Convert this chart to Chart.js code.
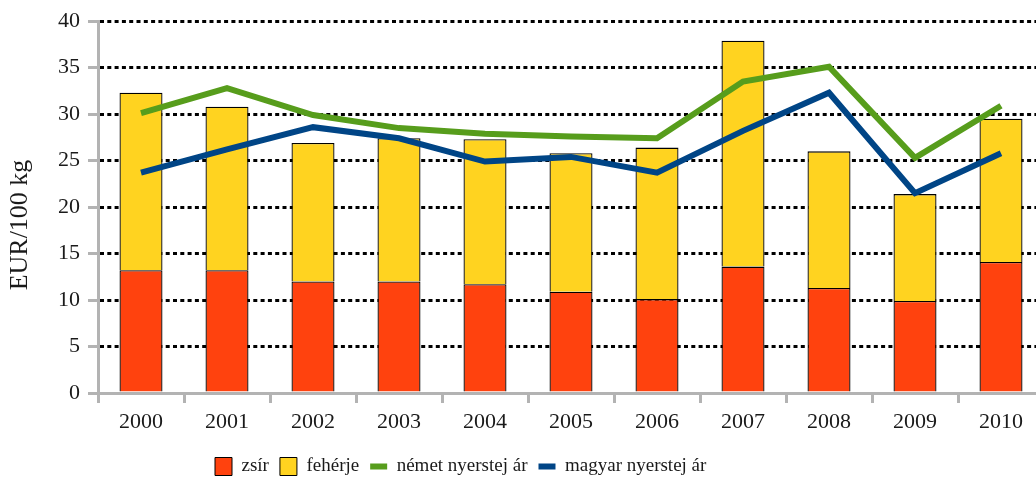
<!DOCTYPE html>
<html>
<head>
<meta charset="utf-8">
<script src="https://cdn.jsdelivr.net/npm/chart.js@4"></script>
<style>
  html, body { margin: 0; padding: 0; background: #fff; overflow: hidden; }
  #wrap { width: 1036px; height: 486px; overflow: hidden; }
</style>
</head>
<body>
<div id="wrap"><canvas id="chart" width="1046" height="486"></canvas></div>
<script>
const years = ['2000','2001','2002','2003','2004','2005','2006','2007','2008','2009','2010'];
const zsir = [13.2, 13.2, 12.0, 12.0, 11.7, 10.9, 10.1, 13.6, 11.3, 9.9, 14.1];
const feherje = [19.1, 17.6, 14.9, 15.4, 15.6, 14.9, 16.3, 24.3, 14.7, 11.5, 15.4];
const nemet = [30.1, 32.8, 29.9, 28.5, 27.9, 27.6, 27.4, 33.5, 35.1, 25.3, 30.9];
const magyar = [23.7, 26.2, 28.6, 27.4, 24.9, 25.4, 23.7, 28.2, 32.3, 21.5, 25.8];
const yTitle = 'EUR/100 kg';

const red = '#ff420e', yellow = '#ffd320', green = '#579d1c', blue = '#004586';
const axisGray = '#b3b3b3', ink = '#1a1a1a';
const serif = "'Liberation Serif', 'DejaVu Serif', serif";

// legend: fixed height, shifted to where the original sits
const legendFix = {
  id: 'legendFix',
  beforeInit(chart) {
    const fit = chart.legend.fit;
    chart.legend.fit = function () { fit.call(this); this.height = 40; };
  },
  afterLayout(chart) {
    const lg = chart.legend;
    const pad = lg.options.labels.padding;
    const startX = (lg.left + pad + lg.right - lg.lineWidths[0]) / 2;
    const dx = 215 - startX;
    lg.left += dx;
    lg.right += dx;
  }
};

// rotated y axis title
const yTitlePlugin = {
  id: 'yTitle',
  afterDraw(chart) {
    const ctx = chart.ctx;
    ctx.save();
    ctx.translate(20, 225);
    ctx.rotate(-Math.PI / 2);
    ctx.font = '26px ' + serif;
    ctx.fillStyle = ink;
    ctx.textAlign = 'center';
    ctx.textBaseline = 'middle';
    ctx.fillText(yTitle, 0, 0);
    ctx.restore();
  }
};

new Chart(document.getElementById('chart'), {
  type: 'bar',
  data: {
    labels: years,
    datasets: [
      { label: 'zsír', data: zsir, backgroundColor: red, borderColor: '#000', borderWidth: 1.3, order: 2 },
      { label: 'fehérje', data: feherje, backgroundColor: yellow, borderColor: '#000', borderWidth: 1.3, order: 2 },
      { type: 'line', label: 'német nyerstej ár', data: nemet, borderColor: green, backgroundColor: green, borderWidth: 6, pointRadius: 0, tension: 0, stack: 'n', order: 1 },
      { type: 'line', label: 'magyar nyerstej ár', data: magyar, borderColor: blue, backgroundColor: blue, borderWidth: 6, pointRadius: 0, tension: 0, stack: 'm', order: 1 }
    ]
  },
  options: {
    responsive: false,
    animation: false,
    devicePixelRatio: 1,
    layout: { padding: { top: 21, right: 2, bottom: 0, left: 0 } },
    datasets: { bar: { categoryPercentage: 1, barPercentage: 0.5 } },
    plugins: {
      tooltip: { enabled: false },
      legend: {
        position: 'bottom',
        labels: {
          usePointStyle: true,
          pointStyleWidth: 17,
          boxHeight: 18,
          padding: 11,
          color: ink,
          font: { family: serif, size: 19 },
          generateLabels: chart => chart.data.datasets.map((ds, i) => ({
            text: ds.label,
            fillStyle: ds.backgroundColor,
            strokeStyle: ds.type === 'line' ? ds.borderColor : '#000',
            lineWidth: ds.type === 'line' ? 6 : 1,
            pointStyle: ds.type === 'line' ? 'line' : 'rect',
            fontColor: ink,
            hidden: false,
            datasetIndex: i
          }))
        }
      }
    },
    scales: {
      x: {
        stacked: true,
        afterFit: s => { s.height = 53; },
        grid: { drawOnChartArea: false, drawTicks: true, tickLength: 10, color: axisGray, lineWidth: 3 },
        border: { color: axisGray, width: 3 },
        ticks: { color: ink, padding: 6, font: { family: serif, size: 22 } }
      },
      y: {
        stacked: true,
        min: 0,
        max: 40,
        afterFit: s => { s.width = 98; },
        ticks: { stepSize: 5, color: ink, padding: 8, font: { family: serif, size: 22 } },
        grid: { color: '#000', lineWidth: 3, tickLength: 10, tickColor: axisGray, tickWidth: 3, tickBorderDash: [] },
        border: { color: axisGray, width: 3, dash: [4, 3.3] }
      }
    }
  },
  plugins: [legendFix, yTitlePlugin]
});
</script>
</body>
</html>
